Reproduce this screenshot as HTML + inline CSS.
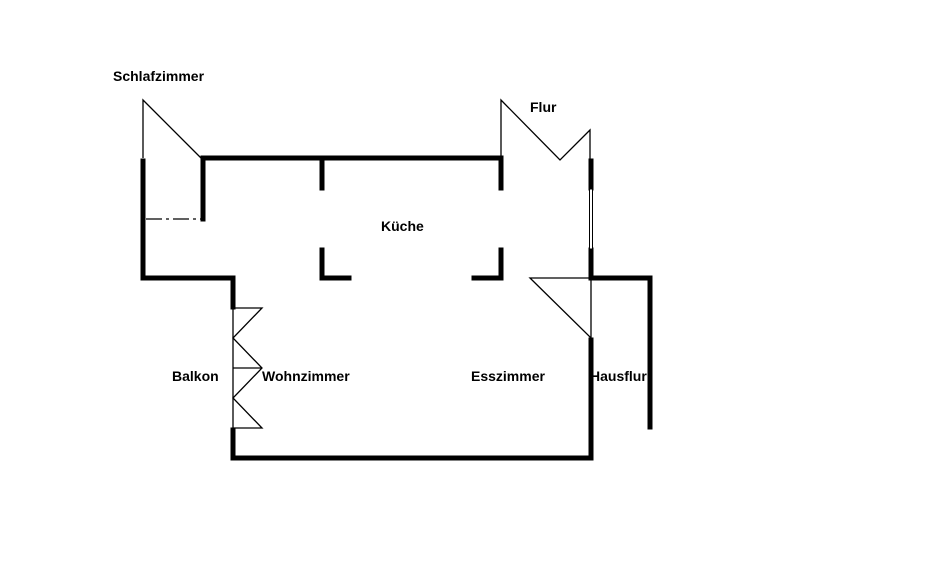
<!DOCTYPE html>
<html><head><meta charset="utf-8"><style>
html,body{margin:0;padding:0;background:#fff;}
svg{display:block}
text{font-family:"Liberation Sans",sans-serif;font-weight:bold;font-size:14px;fill:#000}
</style></head><body>
<svg width="940" height="567" viewBox="0 0 940 567" xmlns="http://www.w3.org/2000/svg">
<g stroke="#000" stroke-width="5" fill="none" stroke-linecap="square">
<polyline points="143,161 143,278 233,278 233,307"/>
<polyline points="203,219 203,158 500,158"/>
<line x1="322" y1="158" x2="322" y2="188"/>
<polyline points="322,250 322,278 349,278"/>
<line x1="501" y1="158" x2="501" y2="188"/>
<polyline points="474,278 501,278 501,250"/>
<line x1="591" y1="161" x2="591" y2="188"/>
<line x1="591" y1="250" x2="591" y2="276"/>
<polyline points="591,278 650,278 650,427"/>
<line x1="591" y1="340" x2="591" y2="458"/>
<polyline points="233,430 233,458 591,458"/>
</g>
<rect x="589.5" y="189" width="3" height="60" fill="#fff" stroke="#000" stroke-width="1"/>
<g stroke="#000" stroke-width="1.3" fill="none">
<polyline points="143,158 143,100 201,158"/>
<polyline points="501,158 501,100 560,160 590,130 590,160"/>
<polyline points="591,278 530,278 591,338 591,278"/>
<line x1="233" y1="307" x2="233" y2="430"/>
<polyline points="233,308 262,308 233,338 262,368 233,398 262,428 233,428"/>
<line x1="233" y1="368" x2="262" y2="368"/>
<line x1="146" y1="219" x2="203" y2="219" stroke-dasharray="16,4,3,4"/>
</g>
<text x="113" y="81">Schlafzimmer</text>
<text x="530" y="112">Flur</text>
<text x="381" y="231">Küche</text>
<text x="172" y="381">Balkon</text>
<text x="262" y="381">Wohnzimmer</text>
<text x="471" y="381">Esszimmer</text>
<text x="590" y="381">Hausflur</text>
</svg>
</body></html>
